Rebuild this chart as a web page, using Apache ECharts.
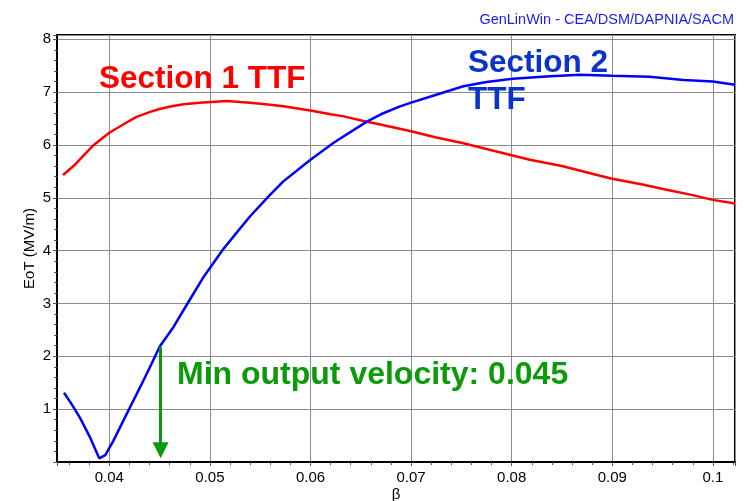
<!DOCTYPE html>
<html>
<head>
<meta charset="utf-8">
<script src="https://cdn.jsdelivr.net/npm/echarts/dist/echarts.min.js"></script>
<style>
  html, body { margin: 0; padding: 0; background: #fff; }
  #chart { width: 744px; height: 501px; }
</style>
</head>
<body>
<div id="chart"></div>
<script>
// Section 1 TTF (red)
var sec1Beta = [0.0354, 0.0365, 0.0371, 0.0384, 0.0400, 0.0415, 0.0427, 0.0440, 0.0450, 0.0462,
  0.0474, 0.0490, 0.0501, 0.0517, 0.0530, 0.0540, 0.0560, 0.0573, 0.0600, 0.0620,
  0.0633, 0.0656, 0.0666, 0.0700, 0.0725, 0.0750, 0.0780, 0.0801, 0.0818, 0.0850,
  0.0881, 0.0900, 0.0930, 0.0954, 0.0980, 0.1000, 0.1022]
var sec1EoT = [5.43, 5.61, 5.73, 5.99, 6.23, 6.40, 6.53, 6.62, 6.68, 6.73,
  6.77, 6.80, 6.81, 6.83, 6.81, 6.80, 6.76, 6.73, 6.65, 6.58,
  6.54, 6.44, 6.40, 6.26, 6.14, 6.04, 5.90, 5.80, 5.72, 5.60,
  5.45, 5.36, 5.25, 5.15, 5.05, 4.96, 4.89]

// Section 2 TTF (blue)
var sec2Beta = [0.0355, 0.0363, 0.0371, 0.0381, 0.0390, 0.0396, 0.0404, 0.0411, 0.0421, 0.0431,
  0.0440, 0.0450, 0.0464, 0.0480, 0.0493, 0.0513, 0.0527, 0.0540, 0.0560, 0.0573,
  0.0600, 0.0623, 0.0656, 0.0670, 0.0689, 0.0700, 0.0725, 0.0752, 0.0775, 0.0801,
  0.0838, 0.0868, 0.0900, 0.0937, 0.0971, 0.1000, 0.1022]
var sec2EoT = [1.31, 1.08, 0.83, 0.46, 0.07, 0.13, 0.40, 0.67, 1.05, 1.43,
  1.78, 2.18, 2.56, 3.07, 3.48, 4.02, 4.35, 4.65, 5.06, 5.31,
  5.72, 6.04, 6.44, 6.58, 6.73, 6.80, 6.95, 7.11, 7.19, 7.25,
  7.30, 7.33, 7.31, 7.29, 7.23, 7.20, 7.14]

// min output velocity arrow: beta, from EoT to EoT
var minVelBeta = 0.0451
var arrowEoT = [2.17, 0.22]

var font = '"Liberation Sans", Arial, sans-serif'

function pairs(xs, ys) {
  return xs.map(function (x, i) { return [x, ys[i]] })
}

var myChart = echarts.init(document.getElementById('chart'))

var option = {
  animation: false,
  title: {
    text: 'GenLinWin - CEA/DSM/DAPNIA/SACM',
    right: 5,
    top: 7,
    textStyle: { fontSize: 14.5, fontWeight: 'normal', color: '#1c1cf0', fontFamily: font }
  },
  grid: {
    left: 57, right: 9, top: 35, bottom: 39,
    outerBoundsMode: 'none',
    show: true, borderColor: '#000', borderWidth: 2
  },
  xAxis: {
    type: 'value',
    min: 0.0348,
    max: 0.1022,
    minInterval: 0.01,
    maxInterval: 0.01,
    name: 'β',
    nameLocation: 'middle',
    nameGap: 25,
    nameMoveOverlap: false,
    nameTextStyle: { fontSize: 15, color: '#000', fontFamily: font },
    axisLine: { lineStyle: { color: '#000', width: 2 } },
    axisTick: { show: true, length: 4, lineStyle: { color: '#555' } },
    minorTick: { show: true, splitNumber: 5, length: 3, lineStyle: { color: '#555' } },
    splitLine: { show: true, lineStyle: { color: '#8c8c8c', width: 1 } },
    axisLabel: {
      fontSize: 15, color: '#000', margin: 8, fontFamily: font,
      formatter: function (v) {
        if (Math.abs(v * 100 - Math.round(v * 100)) > 1e-6) return ''
        return String(+v.toFixed(2))
      }
    }
  },
  yAxis: {
    type: 'value',
    min: 0,
    max: 8.08,
    interval: 1,
    name: 'EoT (MV/m)',
    nameLocation: 'middle',
    nameGap: 20,
    nameMoveOverlap: false,
    nameTextStyle: { fontSize: 15, color: '#000', fontFamily: font },
    axisLine: { show: true, lineStyle: { color: '#000', width: 2 } },
    axisTick: { show: true, length: 4, lineStyle: { color: '#555' } },
    minorTick: { show: true, splitNumber: 5, length: 3, lineStyle: { color: '#555' } },
    splitLine: { show: true, lineStyle: { color: '#8c8c8c', width: 1 } },
    axisLabel: {
      fontSize: 15, color: '#000', margin: 6, fontFamily: font,
      formatter: function (v) {
        if (v === 0 || Math.abs(v - Math.round(v)) > 1e-6) return ''
        return String(Math.round(v))
      }
    }
  },
  series: [
    {
      name: 'Section 1 TTF',
      type: 'line',
      showSymbol: false,
      data: pairs(sec1Beta, sec1EoT),
      lineStyle: { color: '#ff0000', width: 2.5 },
      z: 3
    },
    {
      name: 'Section 2 TTF',
      type: 'line',
      showSymbol: false,
      data: pairs(sec2Beta, sec2EoT),
      lineStyle: { color: '#0000ff', width: 2.5 },
      z: 3,
      markLine: {
        silent: true,
        symbol: ['none', 'triangle'],
        symbolSize: 16,
        label: { show: false },
        lineStyle: { color: '#0a9a0a', width: 3, type: 'solid' },
        data: [[
          { coord: [minVelBeta, arrowEoT[0]] },
          { coord: [minVelBeta, arrowEoT[1]] }
        ]]
      }
    }
  ],
  graphic: [
    {
      type: 'text', left: 99, top: 63, z: 10,
      style: { text: 'Section 1 TTF', font: 'bold 31.5px ' + font, fill: '#ff0000' }
    },
    {
      type: 'text', left: 468, top: 45, z: 10,
      style: { text: 'Section 2\nTTF', font: 'bold 31.5px ' + font, fill: '#0a32cc', lineHeight: 37 }
    },
    {
      type: 'text', left: 177, top: 359, z: 10,
      style: { text: 'Min output velocity: 0.045', font: 'bold 32px ' + font, fill: '#0a9a0a' }
    }
  ]
}

myChart.setOption(option)
</script>
</body>
</html>
